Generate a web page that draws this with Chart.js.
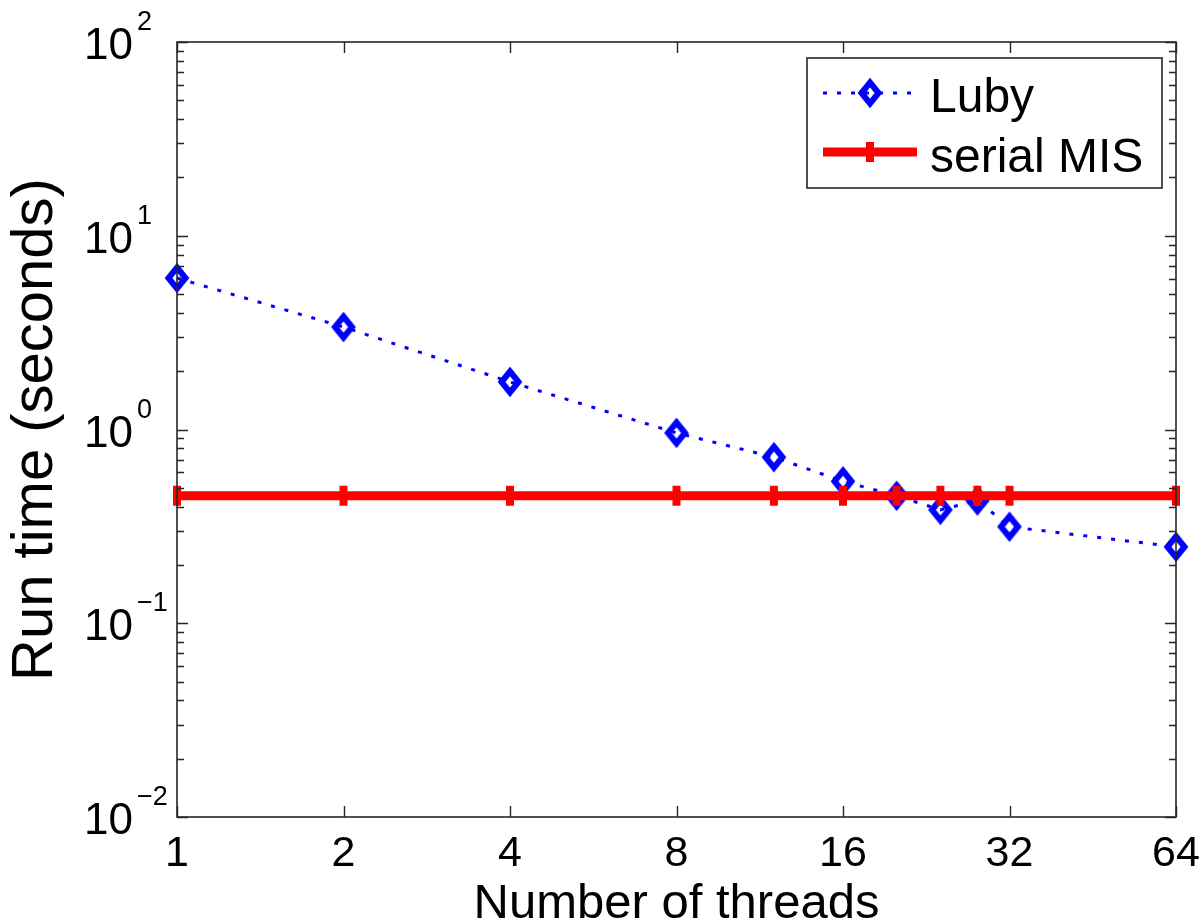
<!DOCTYPE html>
<html>
<head>
<meta charset="utf-8">
<script src="https://cdn.jsdelivr.net/npm/chart.js@4/dist/chart.umd.min.js"></script>
<style>
html,body{margin:0;padding:0;background:#fff;}
#wrap{width:1204px;height:924px;}
</style>
</head>
<body>
<div id="wrap"><canvas id="c" width="1204" height="924"></canvas></div>
<script>
// ---- data ----
const threads = [1, 2, 4, 8, 12, 16, 20, 24, 28, 32, 64];
const lubySeconds = [6.05, 3.38, 1.76, 0.96, 0.72, 0.54, 0.455, 0.385, 0.43, 0.315, 0.248];
const serialSeconds = [0.455, 0.455, 0.455, 0.455, 0.455, 0.455, 0.455, 0.455, 0.455, 0.455, 0.455];
const xTickValues = [1, 2, 4, 8, 16, 32, 64];
const yTickExponents = [-2, -1, 0, 1, 2];
const seriesNames = ['Luby', 'serial MIS'];
const xTitle = 'Number of threads';
const yTitle = 'Run time (seconds)';

const FONT = '"Liberation Sans", Arial, Helvetica, sans-serif';
const BLUE = '#0000ff';
const RED = '#ff0000';
const AXIS = '#262626';

function diamondImage() {
  const c = document.createElement('canvas');
  c.width = 32; c.height = 40;
  const g = c.getContext('2d');
  g.strokeStyle = BLUE;
  g.lineWidth = 6;
  g.lineJoin = 'miter';
  g.beginPath();
  g.moveTo(16, 20 - 10.5);
  g.lineTo(16 + 8.5, 20);
  g.lineTo(16, 20 + 10.5);
  g.lineTo(16 - 8.5, 20);
  g.closePath();
  g.stroke();
  return c;
}
const diamond = diamondImage();

const axisDecor = {
  id: 'axisDecor',
  afterDatasetsDraw(chart) {
    const ctx = chart.ctx;
    const a = chart.chartArea;
    const xs = chart.scales.x, ys = chart.scales.y;
    ctx.save();
    ctx.strokeStyle = AXIS;
    ctx.lineWidth = 1.6;
    ctx.strokeRect(a.left, a.top, a.right - a.left, a.bottom - a.top);
    ctx.lineWidth = 1.4;
    ctx.beginPath();
    for (let e = -2; e <= 2; e++) {
      for (let m = 1; m <= 9; m++) {
        const v = m * Math.pow(10, e);
        if (v > 100.0001) continue;
        const py = Math.round(ys.getPixelForValue(v)) + 0.5;
        const len = m === 1 ? 11 : 7;
        ctx.moveTo(a.left, py); ctx.lineTo(a.left + len, py);
        ctx.moveTo(a.right, py); ctx.lineTo(a.right - len, py);
      }
    }
    xTickValues.forEach(v => {
      const px = Math.round(xs.getPixelForValue(v)) + 0.5;
      ctx.moveTo(px, a.bottom); ctx.lineTo(px, a.bottom - 11);
      ctx.moveTo(px, a.top); ctx.lineTo(px, a.top + 11);
    });
    ctx.stroke();
    ctx.restore();
  },
  afterDraw(chart) {
    const ctx = chart.ctx;
    const ys = chart.scales.y;
    ctx.save();
    ctx.fillStyle = '#000';
    yTickExponents.forEach(e => {
      const py = ys.getPixelForValue(Math.pow(10, e));
      ctx.font = '44px ' + FONT;
      ctx.textAlign = 'right';
      ctx.textBaseline = 'alphabetic';
      ctx.fillText('10', 133, py + 17);
      ctx.font = '27px ' + FONT;
      ctx.textAlign = 'left';
      const exp = e < 0 ? '\u2212' + Math.abs(e) : String(e);
      ctx.fillText(exp, 137, py - 12);
    });
    // legend
    const L = {left: 807, top: 58, right: 1162, bottom: 188};
    ctx.fillStyle = '#fff';
    ctx.fillRect(L.left, L.top, L.right - L.left, L.bottom - L.top);
    ctx.strokeStyle = AXIS;
    ctx.lineWidth = 1.6;
    ctx.strokeRect(L.left, L.top, L.right - L.left, L.bottom - L.top);
    const y1 = 93, y2 = 152;
    ctx.strokeStyle = BLUE;
    ctx.lineWidth = 3;
    ctx.setLineDash([4, 10]);
    ctx.beginPath(); ctx.moveTo(823, y1); ctx.lineTo(917, y1); ctx.stroke();
    ctx.setLineDash([]);
    ctx.drawImage(diamond, 870 - diamond.width / 2, y1 - diamond.height / 2);
    ctx.strokeStyle = RED;
    ctx.lineWidth = 9;
    ctx.beginPath(); ctx.moveTo(823, y2); ctx.lineTo(917, y2); ctx.stroke();
    ctx.lineWidth = 8;
    ctx.beginPath(); ctx.moveTo(870, y2 - 10); ctx.lineTo(870, y2 + 10); ctx.stroke();
    ctx.fillStyle = '#000';
    ctx.font = '48px ' + FONT;
    ctx.textAlign = 'left';
    ctx.textBaseline = 'alphabetic';
    ctx.fillText(seriesNames[0], 930, 112);
    ctx.fillText(seriesNames[1], 930, 172);
    ctx.restore();
  }
};

const ctx = document.getElementById('c').getContext('2d');
new Chart(ctx, {
  type: 'line',
  data: {
    datasets: [
      {
        label: seriesNames[0],
        data: threads.map((t, i) => ({x: t, y: lubySeconds[i]})),
        borderColor: BLUE,
        borderWidth: 3,
        borderDash: [4, 10],
        pointStyle: diamond,
        pointRadius: 12,
        backgroundColor: BLUE,
        tension: 0,
        clip: false,
        order: 2
      },
      {
        label: seriesNames[1],
        data: threads.map((t, i) => ({x: t, y: serialSeconds[i]})),
        borderColor: RED,
        borderWidth: 9,
        pointStyle: 'line',
        pointRotation: 90,
        pointRadius: 10,
        pointBorderWidth: 8,
        pointBorderColor: RED,
        backgroundColor: RED,
        tension: 0,
        clip: false,
        order: 1
      }
    ]
  },
  options: {
    responsive: false,
    animation: false,
    devicePixelRatio: 1,
    layout: {padding: {left: 0, top: 42, right: 28, bottom: 0}},
    plugins: {legend: {display: false}, tooltip: {enabled: false}},
    scales: {
      x: {
        type: 'logarithmic',
        min: 1, max: 64,
        afterBuildTicks: s => { s.ticks = xTickValues.map(v => ({value: v})); },
        afterFit: s => { s.height = 107; s.paddingLeft = 0; s.paddingRight = 0; },
        grid: {display: false, drawTicks: false},
        border: {display: false},
        ticks: {
          autoSkip: false, maxRotation: 0, minRotation: 0,
          padding: 16,
          color: '#000',
          font: {family: FONT, size: 43, lineHeight: 1.0},
          callback: v => String(v)
        },
        title: {
          display: true, text: xTitle, color: '#000',
          font: {family: FONT, size: 49, lineHeight: 0.8},
          padding: {top: 0, bottom: 0}
        }
      },
      y: {
        type: 'logarithmic',
        min: 0.01, max: 100,
        afterFit: s => { s.width = 177; s.paddingTop = 0; s.paddingBottom = 0; },
        grid: {display: false, drawTicks: false},
        border: {display: false},
        ticks: {display: false},
        title: {
          display: true, text: yTitle, color: '#000',
          font: {family: FONT, size: 58, lineHeight: 1.0},
          padding: {top: 7, bottom: 0}
        }
      }
    }
  },
  plugins: [axisDecor]
});
</script>
</body>
</html>
